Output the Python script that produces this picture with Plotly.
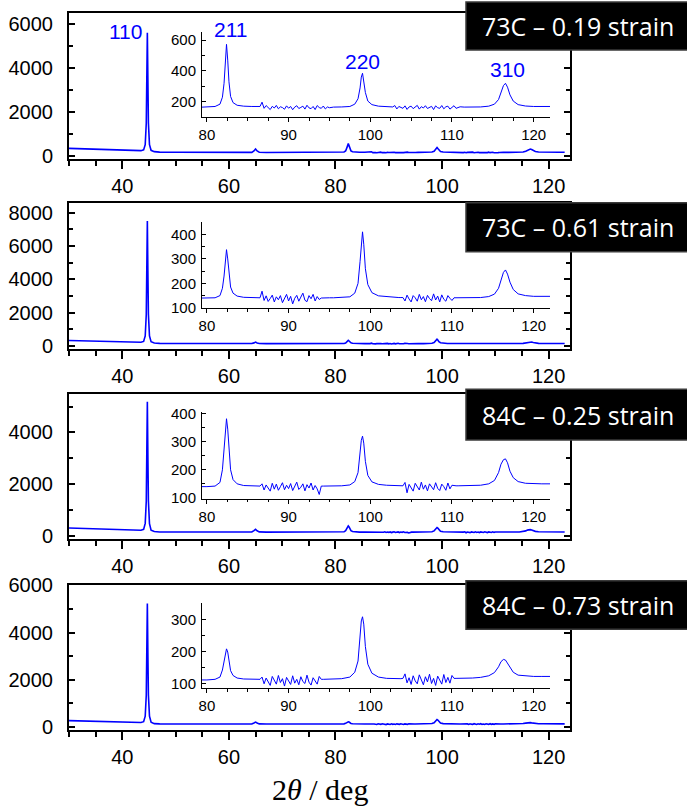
import plotly.graph_objects as go

W, H = 687, 807

# ---------------- data ----------------
two_theta = [
    30, 32, 34, 36, 38, 40, 42, 43.5,
    44.0, 44.3, 44.5, 44.6, 44.7, 44.8, 44.9, 45.1, 45.4,
    46, 47, 50, 55, 60, 63,
    64.3, 64.7, 65.0, 65.3, 65.7,
    67, 70, 75, 78, 80, 81,
    81.6, 81.9, 82.1, 82.25, 82.4, 82.55, 82.7, 82.9, 83.2, 83.7, 84.5, 85.5, 86.5,
    86.75, 87.0, 87.25, 87.5, 87.75, 88.0, 88.25, 88.5, 88.75, 89.0, 89.25, 89.5,
    89.75, 90.0, 90.25, 90.5, 90.75, 91.0, 91.25, 91.5, 91.75, 92.0, 92.25, 92.5,
    92.75, 93.0, 93.25, 93.5, 93.75, 94.0, 94.25, 94.5, 94.75, 95.0,
    95.5, 96.5, 97.5,
    98.1, 98.5, 98.75, 98.9, 99.05, 99.2, 99.4, 99.7, 100.2, 101, 102, 102.75,
    103.0, 103.25, 103.5, 103.75, 104.0, 104.25, 104.5, 104.75, 105.0, 105.25, 105.5,
    105.75, 106.0, 106.25, 106.5, 106.75, 107.0, 107.25, 107.5, 107.75, 108.0, 108.25,
    108.5, 108.75, 109.0, 109.25, 109.5, 109.75, 110.0, 110.25, 110.5, 110.75, 111.0,
    111.5, 112.5, 113.5, 114.5, 115.2, 115.7, 116.0, 116.3, 116.55, 116.8, 117.1,
    117.5, 118.1, 119, 120, 121, 122, 123,
]

counts_73C_019 = [
    350, 335, 320, 305, 290, 275, 255, 245,
    280, 520, 1500, 3300, 5600, 3500, 1500, 520, 260,
    200, 180, 170, 165, 160, 158,
    165, 230, 320, 230, 175,
    162, 160, 160, 162, 165, 170,
    185, 230, 320, 450, 572, 470, 330, 235, 195, 178, 172, 170, 170,
    198, 158, 176, 162, 150, 171, 160, 177, 155, 168, 163, 152,
    174, 159, 170, 149, 166, 175, 157, 164, 172, 153, 178, 161,
    156, 170, 150, 176, 163, 158, 173, 154, 167, 162,
    166, 167, 170,
    185, 220, 290, 360, 385, 340, 260, 205, 182, 172, 168, 167,
    176, 154, 170, 163, 158, 174, 151, 167, 172, 156, 165,
    177, 153, 169, 160, 175, 157, 163, 171, 150, 174, 162,
    158, 176, 155, 168, 172, 153, 166, 175, 158, 161, 168,
    166, 166, 167, 172, 185, 215, 260, 305, 320, 295, 245,
    205, 182, 173, 170, 170, 170, 170,
]

counts_73C_061 = [
    330, 315, 300, 285, 270, 255, 235, 225,
    270, 600, 1900, 4300, 7500, 4500, 1900, 600, 260,
    175, 155, 148, 145, 142, 140,
    145, 185, 230, 180, 150,
    142, 140, 139, 139, 139, 141,
    150, 180, 230, 290, 338, 300, 235, 185, 160, 148, 143, 141, 141,
    168, 130, 149, 126, 138, 152, 124, 145, 133, 150, 121, 142,
    155, 128, 147, 116, 139, 151, 127, 144, 160, 131, 125, 150,
    137, 155, 128, 146, 134, 140, 141, 141, 141, 141,
    141, 142, 145,
    160, 200, 290, 370, 411, 360, 260, 195, 162, 149, 145, 143,
    143, 143, 142, 142, 142, 128, 152, 136, 124, 150, 141,
    127, 155, 133, 146, 125, 151, 138, 129, 157, 132, 148,
    124, 153, 135, 127, 150, 139, 130, 141, 141, 141, 141,
    141, 141, 142, 146, 156, 180, 215, 245, 255, 238, 205,
    175, 157, 150, 147, 147, 147, 147,
]

counts_84C_025 = [
    300, 290, 278, 265, 252, 240, 225, 215,
    250, 480, 1350, 3000, 5190, 3100, 1350, 470, 220,
    165, 150, 146, 144, 142, 141,
    146, 200, 250, 195, 152,
    142, 141, 140, 140, 140, 142,
    155, 200, 270, 340, 382, 345, 270, 200, 165, 150, 144, 142, 142,
    150, 128, 146, 136, 124, 152, 131, 149, 127, 140, 154, 129,
    145, 133, 151, 126, 143, 156, 130, 138, 150, 125, 147, 135,
    153, 128, 144, 132, 112, 142, 142, 142, 142, 142,
    142, 143, 146,
    158, 190, 260, 305, 320, 295, 230, 180, 157, 148, 145, 144,
    144, 144, 143, 143, 143, 155, 118, 148, 133, 124, 152,
    137, 128, 156, 131, 146, 125, 150, 139, 129, 154, 134,
    126, 149, 140, 127, 153, 132, 145, 143, 143, 143, 143,
    143, 143, 145, 150, 162, 190, 220, 236, 239, 225, 195,
    172, 158, 152, 150, 150, 150, 150,
]

counts_84C_073 = [
    260, 250, 240, 228, 216, 205, 190, 180,
    215, 450, 1350, 3000, 5230, 3100, 1350, 450, 190,
    130, 118, 115, 114, 113, 112,
    116, 160, 195, 155, 120,
    113, 112, 111, 111, 111, 113,
    120, 142, 172, 198, 208, 198, 170, 140, 125, 117, 114, 113, 113,
    120, 99, 117, 105, 94, 122, 108, 98, 125, 103, 115, 92,
    119, 110, 97, 124, 101, 113, 96, 121, 106, 100, 126, 104,
    95, 118, 109, 98, 122, 113, 113, 113, 113, 113,
    113, 115, 120,
    135, 170, 245, 295, 308, 285, 215, 160, 132, 120, 116, 115,
    115, 115, 115, 115, 116, 130, 102, 118, 97, 124, 108,
    99, 127, 112, 96, 121, 105, 129, 100, 116, 94, 123,
    110, 98, 128, 103, 119, 101, 125, 116, 116, 116, 117,
    117, 117, 119, 124, 134, 152, 168, 175, 173, 163, 148,
    135, 126, 123, 122, 122, 122, 122,
]

series = [counts_73C_019, counts_73C_061, counts_84C_025, counts_84C_073]
panel_labels = ["73C \u2013 0.19 strain", "73C \u2013 0.61 strain",
                "84C \u2013 0.25 strain", "84C \u2013 0.73 strain"]
main_y_ranges = [[-120, 6510], [-200, 8560], [-135, 5490], [-140, 6035]]
main_y_ticks = [[0, 2000, 4000, 6000], [0, 2000, 4000, 6000, 8000],
                [0, 2000, 4000], [0, 2000, 4000, 6000]]
inset_y_ranges = [[100, 650], [98, 450], [97, 405], [85, 350]]
inset_y_ticks = [[200, 400, 600], [100, 200, 300, 400], [100, 200, 300, 400], [100, 200, 300]]
inset_y_minor = [100, 50, 50, 50]
main_x_ticks = [40, 60, 80, 100, 120]
inset_x_ticks = [80, 90, 100, 110, 120]
peak_labels = ["110", "211", "220", "310"]

for s in series:
    assert len(s) == len(two_theta), len(s)

# ---------------- layout geometry (pixels) ----------------
def fx(px):
    return px / W

def fy(py):
    return 1 - py / H

main_x_px = (69, 570)
main_y_px = [(12.7, 158.7), (203.3, 349.3), (394.0, 539.3), (584.6, 730.0)]
inset_x_px = (202, 550)
inset_y_px = [(32.3, 117.3), (222.3, 308.3), (412.3, 498.7), (603.3, 688.3)]
box_y_px = [(2, 50), (202.7, 251.7), (389.3, 440), (580.7, 629.3)]

BLUE = "#0000FF"
TICKFONT = dict(family="Liberation Sans", size=20, color="black")
INSETFONT = dict(family="Liberation Sans", size=15, color="black")

fig = go.Figure()
layout = dict(
    template="none",
    width=W, height=H, margin=dict(l=0, r=0, t=0, b=0, pad=0, autoexpand=False),
    paper_bgcolor="white", plot_bgcolor="rgba(0,0,0,0)", showlegend=False,
)
shapes = []
annotations = []

for i in range(4):
    m = i + 1          # main axes index
    n = i + 5          # inset axes index
    t = i + 9          # top overlay x axis
    mx = "x" if m == 1 else f"x{m}"
    my = "y" if m == 1 else f"y{m}"
    fig.add_trace(go.Scatter(x=two_theta, y=series[i], mode="lines",
                             line=dict(color=BLUE, width=1.6),
                             xaxis=mx, yaxis=my, hoverinfo="skip"))
    fig.add_trace(go.Scatter(x=two_theta, y=series[i], mode="lines",
                             line=dict(color=BLUE, width=1),
                             xaxis=f"x{n}", yaxis=f"y{n}", hoverinfo="skip"))

    ytop, ybot = main_y_px[i]
    xa = "xaxis" if m == 1 else f"xaxis{m}"
    ya = "yaxis" if m == 1 else f"yaxis{m}"
    layout[xa] = dict(
        domain=[fx(main_x_px[0]), fx(main_x_px[1])], anchor=my, automargin=False,
        range=[30, 124], showgrid=False, zeroline=False,
        showline=True, linecolor="black", linewidth=2, mirror=True,
        tickmode="array", tickvals=main_x_ticks,
        ticks="outside", ticklen=8, tickwidth=1.5, tickcolor="black",
        tickfont=TICKFONT, ticklabelstandoff=0,
        minor=dict(ticks="outside", ticklen=5, tickwidth=1.5, dtick=5, tick0=30,
                   tickcolor="black", showgrid=False),
    )
    layout[f"xaxis{t}"] = dict(
        domain=[fx(main_x_px[0]), fx(main_x_px[1])], anchor=my, overlaying=mx,
        automargin=False,
        side="top", range=[30, 124], showgrid=False, zeroline=False,
        showline=False, showticklabels=False,
        tickmode="array", tickvals=main_x_ticks,
        ticks="inside", ticklen=5, tickwidth=1.5, tickcolor="black",
        minor=dict(ticks="inside", ticklen=4, tickwidth=1.5, dtick=5, tick0=30,
                   tickcolor="black", showgrid=False),
    )
    layout[ya] = dict(
        domain=[fy(ybot), fy(ytop)], anchor=mx, automargin=False,
        range=main_y_ranges[i], showgrid=False, zeroline=False,
        showline=True, linecolor="black", linewidth=2, mirror="ticks",
        tickmode="array", tickvals=main_y_ticks[i],
        ticks="inside", ticklen=6, tickwidth=1.5, tickcolor="black",
        tickfont=TICKFONT, ticklabelstandoff=10,
        minor=dict(ticks="inside", ticklen=4, tickwidth=1.5, dtick=1000, tick0=0,
                   tickcolor="black", showgrid=False),
    )

    itop, ibot = inset_y_px[i]
    layout[f"xaxis{n}"] = dict(
        domain=[fx(inset_x_px[0]), fx(inset_x_px[1])], anchor=f"y{n}", automargin=False,
        range=[79.4, 122.0], showgrid=False, zeroline=False,
        showline=True, linecolor="black", linewidth=1,
        tickmode="array", tickvals=inset_x_ticks,
        ticks="outside", ticklen=4, tickwidth=1, tickcolor="black",
        tickfont=INSETFONT, ticklabelstandoff=0,
        minor=dict(ticks="outside", ticklen=2.5, tickwidth=1, dtick=2.5, tick0=80,
                   tickcolor="black", showgrid=False),
    )
    layout[f"yaxis{n}"] = dict(
        domain=[fy(ibot), fy(itop)], anchor=f"x{n}", automargin=False,
        range=inset_y_ranges[i], showgrid=False, zeroline=False,
        showline=True, linecolor="black", linewidth=1,
        tickmode="array", tickvals=inset_y_ticks[i],
        ticks="inside", ticklen=4, tickwidth=1, tickcolor="black",
        tickfont=INSETFONT, ticklabelstandoff=2,
        minor=dict(ticks="inside", ticklen=2.5, tickwidth=1, dtick=inset_y_minor[i],
                   tick0=0, tickcolor="black", showgrid=False),
    )

    by0, by1 = box_y_px[i]
    shapes.append(dict(type="rect", xref="paper", yref="paper",
                       x0=fx(466), x1=fx(690), y0=fy(by1), y1=fy(by0),
                       fillcolor="black", line=dict(color="#3a3a3a", width=1.5),
                       layer="above"))
    annotations.append(dict(xref="paper", yref="paper", x=fx(480), y=fy((by0 + by1) / 2),
                            xanchor="left", yanchor="middle", showarrow=False,
                            text=panel_labels[i],
                            font=dict(family="Open Sans", size=25, color="white")))

# peak labels (first panel)
peak_label_px = [(125.3, 32), (230, 29.3), (362.3, 61.7), (507.3, 70)]
for lab, (px, py) in zip(peak_labels, peak_label_px):
    annotations.append(dict(xref="paper", yref="paper", x=fx(px), y=fy(py),
                            xanchor="center", yanchor="middle", showarrow=False,
                            text=lab,
                            font=dict(family="Liberation Sans", size=21, color=BLUE)))

annotations.append(dict(xref="paper", yref="paper", x=fx(319.5), y=fy(789),
                        xanchor="center", yanchor="middle", showarrow=False,
                        text="2<i>\u03b8</i> / deg",
                        font=dict(family="Liberation Serif", size=30, color="black")))

layout["shapes"] = shapes
layout["annotations"] = annotations
fig.update_layout(**layout)
fig.write_html("out.html")
